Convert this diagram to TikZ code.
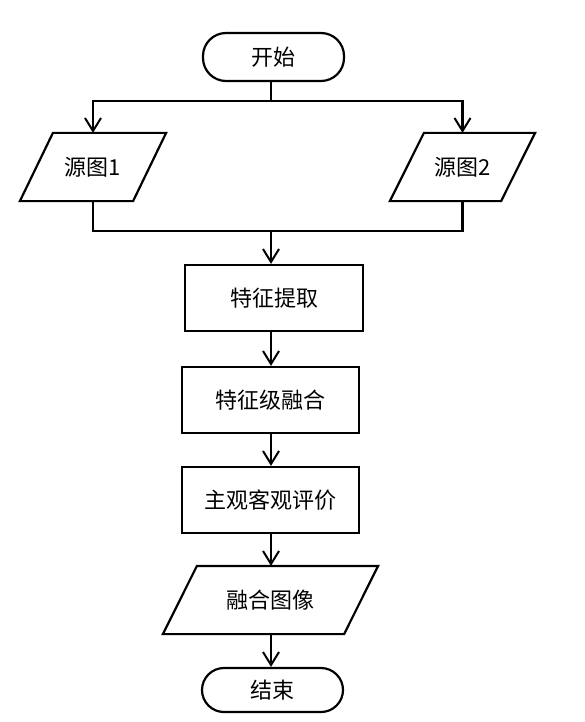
\documentclass[tikz,border=0pt]{standalone}
\usepackage{fontspec}
\setmainfont{Noto Sans CJK SC}
\usetikzlibrary{arrows.meta}
\begin{document}
\begin{tikzpicture}[x=1pt,y=-1pt,
  line width=2.2pt,
  every node/.style={font=\fontsize{22}{26}\selectfont, inner sep=0pt},
  term/.style={draw, rounded corners=23pt},
  proc/.style={draw, rectangle},
  io/.style={rectangle},
  arr/.style={-{Straight Barb[length=13pt,width=16pt,line width=2pt]}}]
\useasboundingbox (0,0) rectangle (584,722);
% nodes
\node[term, minimum width=141pt, minimum height=48pt] (start) at (273.5,57) {开始};
\node[io, minimum width=144pt, minimum height=66pt] (s1) at (93,167) {源图1};
\node[io, minimum width=143pt, minimum height=66pt] (s2) at (462.5,167) {源图2};
\node[proc, minimum width=178pt, minimum height=66pt] (b1) at (274,298) {特征提取};
\node[proc, minimum width=177pt, minimum height=66pt] (b2) at (270.5,400) {特征级融合};
\node[proc, minimum width=177pt, minimum height=66pt] (b3) at (270.5,500) {主观客观评价};
\node[io, minimum width=213pt, minimum height=66pt] (out) at (270.5,600) {融合图像};
\node[term, minimum width=141pt, minimum height=44pt, rounded corners=22pt] (end) at (272.5,690) {结束};
% parallelogram outlines
\draw ([xshift=33pt]s1.north west) -- (s1.north east) -- ([xshift=-33pt]s1.south east) -- (s1.south west) -- cycle;
\draw ([xshift=34pt]s2.north west) -- (s2.north east) -- ([xshift=-34pt]s2.south east) -- (s2.south west) -- cycle;
\draw ([xshift=34pt]out.north west) -- (out.north east) -- ([xshift=-34pt]out.south east) -- (out.south west) -- cycle;
% junctions
\coordinate (j1) at (271,101);
\coordinate (j2) at (271,231);
% connectors
\draw (start.south -| j1) -- (j1);
\draw[arr] (j1) -| (s1.north);
\draw[arr] (j1) -| (s2.north);
\draw (s1.south) |- (j2);
\draw (s2.south) |- (j2);
\draw[arr] (j2) -- (j2 |- b1.north);
\draw[arr] (b1.south -| j2) -- (b2.north -| j2);
\draw[arr] (b2.south -| j2) -- (b3.north -| j2);
\draw[arr] (b3.south -| j2) -- (out.north -| j2);
\draw[arr] (out.south -| j2) -- (end.north -| j2);
\end{tikzpicture}
\end{document}
